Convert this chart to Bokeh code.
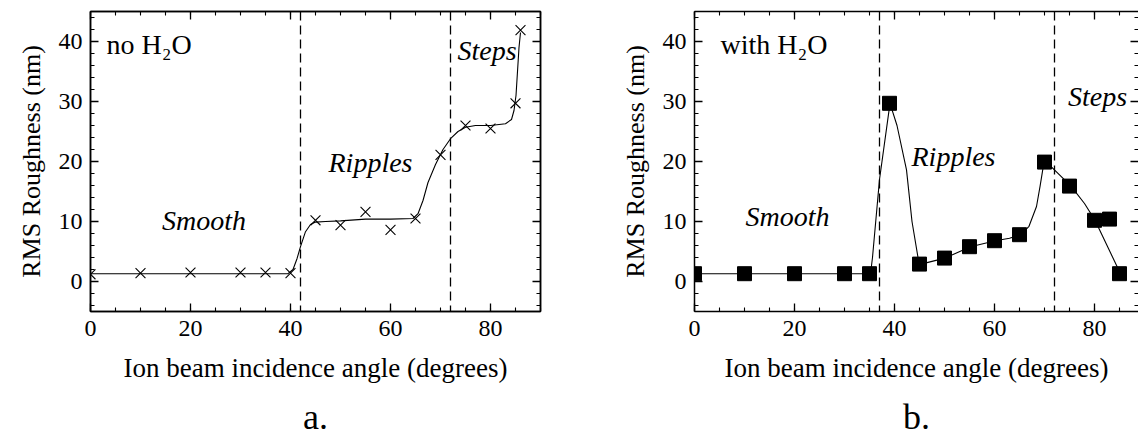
from bokeh.plotting import figure
from bokeh.layouts import row
from bokeh.models import (LinearAxis, Span, Title, ColumnDataSource, Range1d,
                          SingleIntervalTicker, CustomJSTickFormatter)
from bokeh.core.properties import value
from bokeh.embed import file_html
from bokeh.resources import INLINE

# ---------------- data ----------------
# panel a: no H2O (x markers) + fitted curve
a_angle = [0, 10, 20, 30, 35, 40, 45, 50, 55, 60, 65, 70, 75, 80, 85, 86]
a_rms = [1.2, 1.4, 1.5, 1.5, 1.5, 1.4, 10.2, 9.4, 11.6, 8.6, 10.5, 21.1, 26.0, 25.5, 29.7, 41.9]
a_fit_x = [0, 39.5, 40.5, 41.3, 42, 43, 44, 45, 47, 50, 55, 60, 64.5, 65.5, 66.5, 67.5,
           69, 70.5, 72, 73.5, 75, 77, 80, 83, 84.2, 84.7, 85.1, 85.4, 85.7, 86]
a_fit_y = [1.3, 1.3, 2.0, 3.8, 5.8, 8.3, 9.5, 9.9, 10.0, 10.1, 10.4, 10.4, 10.5, 11.3, 13.5, 16.5,
           19.5, 22.0, 23.8, 25.0, 25.7, 26.0, 26.0, 26.3, 27.0, 28.5, 31.0, 35.0, 39.0, 41.5]
a_bounds = [42, 72]
a_regions = ["Smooth", "Ripples", "Steps"]
a_region_x = [22.7, 56.0, 79.3]
a_region_y = [10.2, 19.9, 38.5]

# panel b: with H2O (square markers) + connecting curve
b_angle = [0, 10, 20, 30, 35, 39, 45, 50, 55, 60, 65, 70, 75, 80, 83, 85]
b_rms = [1.3, 1.3, 1.3, 1.3, 1.3, 29.7, 2.9, 3.9, 5.8, 6.8, 7.8, 19.9, 15.9, 10.2, 10.4, 1.3]
b_line_x = [0, 35.2, 35.6, 37, 39.1, 40.5, 42.4, 43.5, 44.9, 45.3, 50.1, 55.2, 60.2, 63, 65.3,
            66.9, 68.4, 69.1, 69.8, 70.4, 75.3, 78, 80.1, 85.2]
b_line_y = [1.3, 1.3, 4.0, 17.0, 29.7, 26.0, 18.6, 10.0, 3.0, 2.9, 3.9, 5.8, 6.8, 7.2, 7.8,
            9.2, 12.5, 15.8, 19.4, 19.9, 15.9, 13.0, 10.2, 1.3]
b_bounds = [37, 72]
b_regions = ["Smooth", "Ripples", "Steps"]
b_region_x = [18.6, 51.8, 80.6]
b_region_y = [10.8, 20.8, 30.8]

x_label = "Ion beam incidence angle (degrees)"
y_label = "RMS Roughness (nm)"

SERIF = "Liberation Serif, Times New Roman, serif"


def style_axis(ax, labels=True):
    ax.axis_line_color = "black"
    ax.axis_line_width = 1.5
    ax.major_tick_line_color = "black"
    ax.minor_tick_line_color = "black"
    ax.major_tick_line_width = 1.3
    ax.minor_tick_line_width = 1.1
    ax.major_tick_in = 8
    ax.major_tick_out = 0
    ax.minor_tick_in = 4
    ax.minor_tick_out = 0
    ax.major_label_text_font = SERIF
    ax.major_label_text_font_size = "24px"
    ax.major_label_text_color = "black"
    ax.axis_label_text_font = SERIF
    ax.axis_label_text_font_size = "26px"
    ax.axis_label_text_font_style = "normal"
    ax.axis_label_text_color = "black"
    if not labels:
        ax.formatter = CustomJSTickFormatter(code="return ''")
        ax.major_label_standoff = 0


def make_panel(xs, ys, fx, fy, bounds, regs, rx, ry, note, marker, letter,
               frame_w, x_end, border_l, border_r, cut_right):
    p = figure(frame_width=frame_w, frame_height=300,
               min_border_left=border_l, min_border_right=border_r,
               min_border_top=11, min_border_bottom=129,
               x_range=Range1d(0, x_end), y_range=Range1d(-5, 45),
               output_backend="svg", toolbar_location=None,
               background_fill_color="white", border_fill_color="white")
    p.grid.visible = False
    p.outline_line_color = None if cut_right else "black"
    p.outline_line_width = 1.5

    p.xaxis.ticker = SingleIntervalTicker(interval=20, num_minor_ticks=4)
    p.yaxis.ticker = SingleIntervalTicker(interval=10, num_minor_ticks=5)
    p.xaxis.axis_label = x_label
    p.yaxis.axis_label = y_label
    for ax in p.xaxis + p.yaxis:
        style_axis(ax)
    p.xaxis.axis_label_text_font_size = "27px"
    p.xaxis.major_label_standoff = 9
    p.yaxis.major_label_standoff = 8
    p.xaxis.axis_label_standoff = 14
    p.yaxis.axis_label_standoff = 10

    top = LinearAxis(ticker=SingleIntervalTicker(interval=20, num_minor_ticks=4))
    right = LinearAxis(ticker=SingleIntervalTicker(interval=10, num_minor_ticks=5))
    style_axis(top, labels=False)
    style_axis(right, labels=False)
    if cut_right:
        right.axis_line_color = None
    p.add_layout(top, "above")
    p.add_layout(right, "right")

    for b in bounds:
        p.add_layout(Span(location=b, dimension="height", line_color="black",
                          line_width=1.3, line_dash="9 5"))

    p.line(fx, fy, line_color="black", line_width=1.1)
    if marker == "x":
        p.scatter(xs, ys, marker="x", size=14, line_color="black", line_width=1.1)
    else:
        p.scatter(xs, ys, marker="square", size=14, fill_color="black", line_color="black")

    src = ColumnDataSource(dict(x=rx, y=ry, t=regs))
    p.text(x="x", y="y", text="t", source=src, text_font=value(SERIF),
           text_font_style="italic", text_font_size="28px", text_color="black",
           text_align="center", text_baseline="middle")
    p.text(x=[note[1]], y=[note[2]], text=[note[0]], text_font=value(SERIF),
           text_font_size="28px", text_color="black",
           text_align="left", text_baseline="middle")

    p.add_layout(Title(text=letter, align="center", text_font=SERIF,
                       text_font_size="36px", text_font_style="normal",
                       text_color="black", standoff=18), "below")
    return p


pa = make_panel(a_angle, a_rms, a_fit_x, a_fit_y, a_bounds, a_regions, a_region_x, a_region_y,
                ("no H\u2082O", 3.2, 39.5), "x", "a.", 450, 90, 90, 29, False)
pb = make_panel(b_angle, b_rms, b_line_x, b_line_y, b_bounds, b_regions, b_region_x, b_region_y,
                ("with H\u2082O", 5.2, 39.5), "square", "b.", 444, 88.8, 125, 0, True)

layout = row(pa, pb)
open("out.html", "w").write(file_html(layout, INLINE))
